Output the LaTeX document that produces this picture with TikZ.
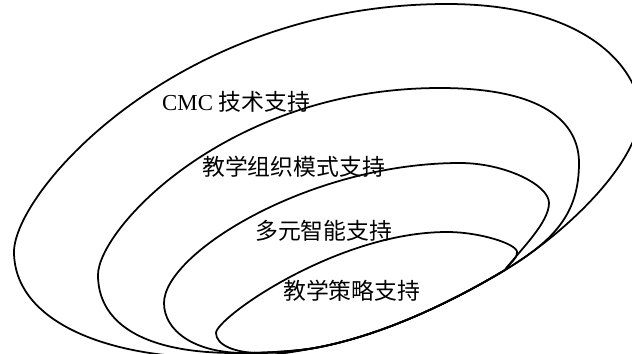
\documentclass[tikz,border=0pt]{standalone}
\usepackage{fontspec}
\setmainfont{Liberation Serif}
\newfontfamily\cjk{Noto Sans CJK SC}
\begin{document}
\begin{tikzpicture}[x=0.03cm,y=-0.03cm,
  ring/.style={draw=black,line width=1.5pt},
  lbl/.style={anchor=west,inner sep=0pt,font=\fontsize{19.5pt}{20pt}\selectfont}]
\useasboundingbox (0,0) rectangle (632,353);
\clip (0,0) rectangle (632,353);
% shared lower edge where the rings meet
\coordinate (Q) at (320,347);
\coordinate (P) at (505,270);
% outer ring
\draw[ring] (447,4) .. controls (179,4) and (14,191) .. (14,252)
  .. controls (14,316) and (95,358) .. (220,358)
  .. controls (255,358) and (290,353) .. (Q)
  .. controls (380,335) and (445,306) .. (P)
  .. controls (565,234) and (640,162) .. (640,112)
  .. controls (640,77) and (597,4) .. cycle;
% second ring
\draw[ring] (440,88) .. controls (228,88) and (98,229) .. (98,275)
  .. controls (98,320) and (138,353) .. (235,353)
  .. controls (260,353) and (295,352) .. (Q)
  .. controls (380,335) and (445,306) .. (P)
  .. controls (555,240) and (579,213) .. (579,163)
  .. controls (579,122) and (543,88) .. cycle;
% third ring
\draw[ring] (460,163) .. controls (310,163) and (164,253) .. (164,303)
  .. controls (164,330) and (193,353) .. (245,353)
  .. controls (265,353) and (300,351) .. (Q)
  .. controls (380,335) and (445,306) .. (P)
  .. controls (520,250) and (549,223) .. (549,203)
  .. controls (549,185) and (505,163) .. cycle;
% inner ring
\draw[ring] (447,232) .. controls (337,232) and (216,318) .. (216,333)
  .. controls (216,345) and (235,353) .. (260,353)
  .. controls (280,353) and (305,350) .. (Q)
  .. controls (380,335) and (445,306) .. (P)
  .. controls (510,262) and (517,260) .. (517,252)
  .. controls (517,244) and (480,232) .. cycle;
\node[lbl] (t1) at (162,102) {CMC {\cjk 技术支持}};
\node[lbl] (t2) at (202,167) {\cjk 教学组织模式支持};
\node[lbl] (t3) at (255,231) {\cjk 多元智能支持};
\node[lbl] (t4) at (283,291) {\cjk 教学策略支持};
\end{tikzpicture}
\end{document}
